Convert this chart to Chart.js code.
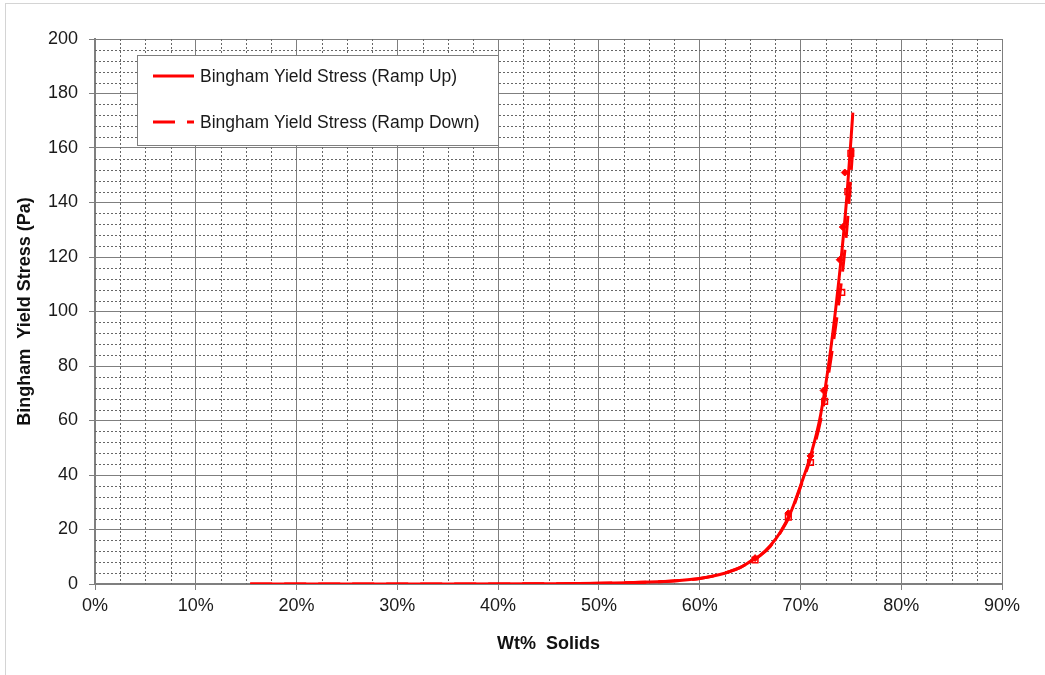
<!DOCTYPE html>
<html>
<head>
<meta charset="utf-8">
<script src="https://cdn.jsdelivr.net/npm/chart.js@4.4.1/dist/chart.umd.min.js"></script>
<style>
  html, body { margin: 0; padding: 0; background: #fff; }
  #wrap { width: 1045px; height: 675px; }
</style>
</head>
<body>
<div id="wrap"><canvas id="chart" width="1045" height="675"></canvas></div>
<script>
// fitted curves (x = wt% solids, y = Pa)
const wtSolids    = [15.4, 25, 35, 45, 50, 55, 58, 60, 62, 63, 64, 65, 66, 67, 68, 69, 70, 71, 72, 73, 74, 74.6, 75.2];
const rampUpFit   = [0, 0, 0.01, 0.1, 0.25, 0.7, 1.3, 2.0, 3.5, 4.6, 6.0, 8.2, 10.5, 14, 19, 26, 36, 47, 62, 86, 118, 142, 173];
const rampDownFit = [0, 0, 0.01, 0.1, 0.25, 0.7, 1.3, 2.0, 3.5, 4.6, 6.0, 8.1, 10.4, 13.8, 18.8, 25.5, 35.5, 46, 60, 82, 109, 130, 160];

// measured points
const rampUpX   = [65.5, 68.8, 71.0, 72.3, 73.9, 74.2, 74.4];
const rampUpY   = [9.5, 26, 47, 71, 119, 131, 151];
const rampDownX = [65.5, 68.8, 71.0, 72.4, 74.1, 74.7, 75.0];
const rampDownY = [8.8, 24.5, 44.6, 67, 107, 144, 158];

const seriesNames = ['Bingham Yield Stress (Ramp Up)', 'Bingham Yield Stress (Ramp Down)'];
const xTitle = 'Wt%  Solids';
const yTitle = 'Bingham  Yield Stress (Pa)';

const RED = '#ff0000';
const FONT = 'Arial, "Liberation Sans", sans-serif';

const toPts = (xs, ys) => xs.map((x, i) => ({ x: x, y: ys[i] }));

// dotted minor grid (every 2.5% and every 4 Pa)
const minorGrid = {
  id: 'minorGrid',
  beforeDatasetsDraw(chart) {
    const { ctx, chartArea: a, scales: { x, y } } = chart;
    ctx.save();
    ctx.strokeStyle = '#666';
    ctx.lineWidth = 1;
    ctx.setLineDash([2, 2]);
    for (let v = 2.5; v < 90; v += 2.5) {
      if (v % 10 === 0) continue;
      const px = Math.round(x.getPixelForValue(v)) + 0.5;
      ctx.beginPath(); ctx.moveTo(px, a.top); ctx.lineTo(px, a.bottom); ctx.stroke();
    }
    for (let v = 4; v < 200; v += 4) {
      if (v % 20 === 0) continue;
      const py = Math.round(y.getPixelForValue(v)) + 0.5;
      ctx.beginPath(); ctx.moveTo(a.left, py); ctx.lineTo(a.right, py); ctx.stroke();
    }
    ctx.restore();
  }
};

// legend box drawn inside the plot, lines only
const legendBox = {
  id: 'legendBox',
  afterDatasetsDraw(chart) {
    const { ctx, chartArea: a } = chart;
    const bx = a.left + 42, by = a.top + 16, bw = 361, bh = 90;
    ctx.save();
    ctx.fillStyle = '#fff';
    ctx.fillRect(bx, by, bw, bh);
    ctx.strokeStyle = '#7f7f7f';
    ctx.lineWidth = 1;
    ctx.strokeRect(bx + 0.5, by + 0.5, bw, bh);
    ctx.font = '17.5px ' + FONT;
    ctx.fillStyle = '#1a1a1a';
    ctx.textBaseline = 'middle';
    const rows = [by + 21, by + 67];
    seriesNames.forEach((name, i) => {
      ctx.strokeStyle = RED;
      ctx.lineWidth = 3;
      ctx.setLineDash(i === 0 ? [] : [22, 12]);
      ctx.beginPath();
      ctx.moveTo(bx + 16, rows[i]);
      ctx.lineTo(bx + 57, rows[i]);
      ctx.stroke();
      ctx.fillText(name, bx + 63, rows[i] + 1);
    });
    ctx.restore();
  }
};

const pageFrame = {
  id: 'pageFrame',
  beforeDraw(chart) {
    const ctx = chart.ctx;
    ctx.save();
    ctx.fillStyle = '#fff';
    ctx.fillRect(0, 0, chart.width, chart.height);
    ctx.strokeStyle = '#d4d4d4';
    ctx.lineWidth = 1;
    ctx.strokeRect(5.5, 3.5, chart.width, chart.height);
    ctx.restore();
  }
};

new Chart(document.getElementById('chart'), {
  type: 'scatter',
  data: {
    datasets: [
      {
        label: seriesNames[0],
        data: toPts(wtSolids, rampUpFit),
        showLine: true,
        borderColor: RED,
        borderWidth: 3,
        pointRadius: 0,
        cubicInterpolationMode: 'monotone',
        order: 2
      },
      {
        label: seriesNames[1],
        data: toPts(wtSolids, rampDownFit),
        showLine: true,
        borderColor: RED,
        borderWidth: 3,
        borderDash: [22, 12],
        pointRadius: 0,
        cubicInterpolationMode: 'monotone',
        order: 1
      },
      {
        label: 'up points',
        data: toPts(rampUpX, rampUpY),
        pointStyle: 'rectRot',
        pointRadius: 3.5,
        backgroundColor: RED,
        borderColor: RED,
        order: 0
      },
      {
        label: 'down points',
        data: toPts(rampDownX, rampDownY),
        pointStyle: 'rect',
        pointRadius: 4,
        borderWidth: 1.5,
        backgroundColor: 'rgba(255,255,255,0)',
        borderColor: RED,
        order: 0
      }
    ]
  },
  options: {
    responsive: false,
    animation: false,
    devicePixelRatio: 1,
    layout: { padding: { left: 0, top: 39, right: 43, bottom: 0 } },
    plugins: {
      legend: { display: false },
      tooltip: { enabled: false }
    },
    scales: {
      x: {
        type: 'linear',
        min: 0,
        max: 90,
        afterFit: (s) => { s.height = 91; },
        ticks: {
          stepSize: 10,
          padding: 5,
          color: '#1a1a1a',
          font: { family: FONT, size: 18 },
          maxRotation: 0,
          callback: (v) => v + '%'
        },
        grid: { color: '#7f7f7f', lineWidth: 1, tickLength: 6, tickColor: '#7f7f7f' },
        border: { color: '#7f7f7f', width: 2 },
        title: {
          display: true,
          text: xTitle,
          color: '#111',
          font: { family: FONT, size: 18, weight: 'bold' },
          padding: { top: 0, bottom: 20 }
        }
      },
      y: {
        type: 'linear',
        min: 0,
        max: 200,
        afterFit: (s) => { s.width = 95; },
        ticks: {
          stepSize: 20,
          padding: 11,
          color: '#1a1a1a',
          font: { family: FONT, size: 18 }
        },
        grid: { color: '#7f7f7f', lineWidth: 1, tickLength: 6, tickColor: '#7f7f7f' },
        border: { color: '#7f7f7f', width: 2 },
        title: {
          display: true,
          text: yTitle,
          color: '#111',
          font: { family: FONT, size: 18, weight: 'bold' },
          padding: { top: 14, bottom: 0 }
        }
      }
    }
  },
  plugins: [pageFrame, minorGrid, legendBox]
});
</script>
</body>
</html>
